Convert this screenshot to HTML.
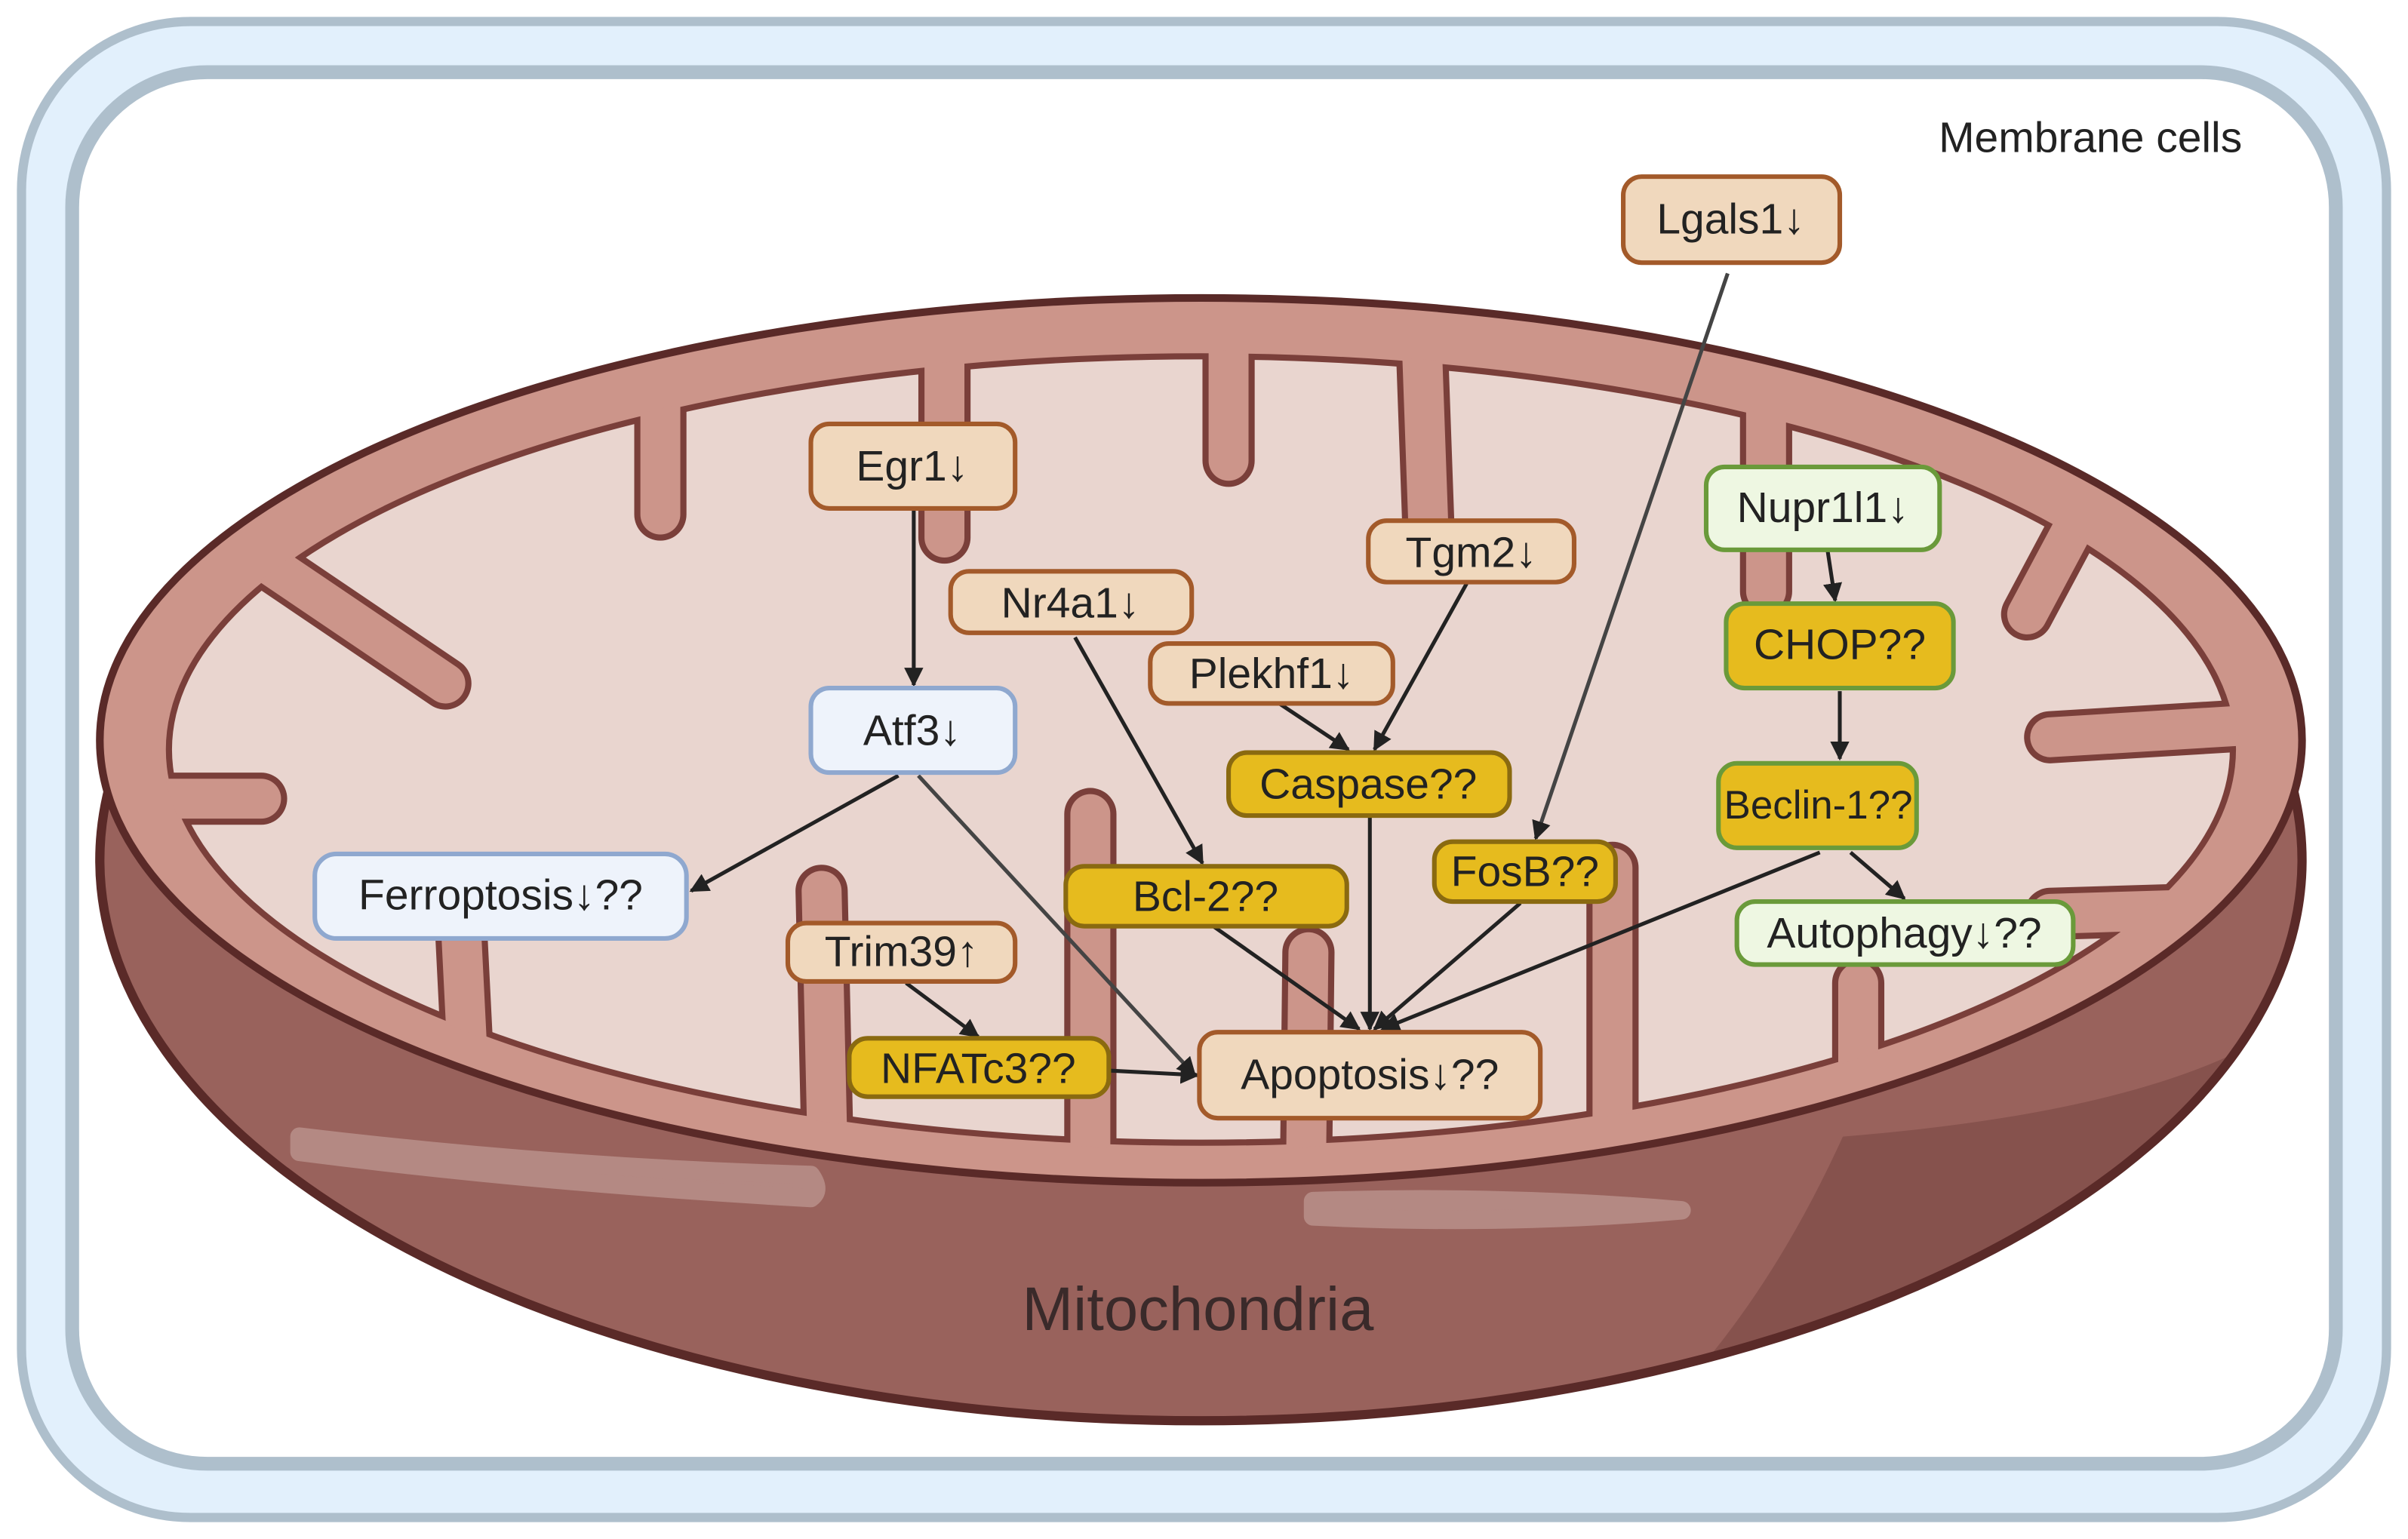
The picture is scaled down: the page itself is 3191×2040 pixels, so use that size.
<!DOCTYPE html>
<html><head><meta charset="utf-8"><style>
html,body{margin:0;padding:0;background:#fff;}
svg{display:block;}
text{font-family:"Liberation Sans","DejaVu Sans",sans-serif;}
</style></head><body>
<svg width="3191" height="2040" viewBox="0 0 1568 1002" preserveAspectRatio="none" xmlns="http://www.w3.org/2000/svg">
<defs>
<marker id="ah" viewBox="0 0 10 10" refX="9" refY="5" markerWidth="5" markerHeight="5" orient="auto"><path d="M0,0 L10,5 L0,10 z" fill="#222"/></marker>
<clipPath id="inner"><ellipse cx="782" cy="488" rx="672" ry="256"/></clipPath>
<clipPath id="inner2"><ellipse cx="782" cy="488" rx="676" ry="260"/></clipPath>
<clipPath id="body"><ellipse cx="782" cy="560" rx="717" ry="365"/></clipPath>
</defs>
<rect x="14" y="14" width="1540" height="974" rx="110" fill="#e2f0fc" stroke="#aebfcc" stroke-width="6"/>
<rect x="47" y="47" width="1474" height="906" rx="88" fill="#fff" stroke="#aebfcc" stroke-width="9"/>
<text x="1460" y="99" font-size="28" fill="#222" text-anchor="end">Membrane cells</text>

<ellipse cx="782" cy="560" rx="717" ry="365" fill="#99625c"/>
<path d="M1200,740 Q1150,850 1080,920 Q1400,820 1520,640 Q1450,720 1200,740z" fill="#86524d" clip-path="url(#body)"/>
<ellipse cx="782" cy="560" rx="717" ry="365" fill="none" stroke="#5a2a28" stroke-width="6"/>
<ellipse cx="782" cy="482" rx="717" ry="288" fill="#cc958a" stroke="#5a2a28" stroke-width="5"/>
<path d="M195,740 Q360,760 528,765 Q535,775 528,780 Q350,770 195,750z" fill="#b48983" stroke="#b48983" stroke-width="12" stroke-linejoin="round"/>
<path d="M855,782 Q980,778 1095,788 Q980,798 855,792z" fill="#b48983" stroke="#b48983" stroke-width="12" stroke-linejoin="round"/>
<ellipse cx="782" cy="488" rx="672" ry="256" fill="#e9d5cf" stroke="#7a3f3a" stroke-width="4"/>
<g fill="none" stroke-linecap="round">
<g stroke="#7a3f3a" stroke-width="34" clip-path="url(#inner)">
<path d="M430,200 L430,335"/><path d="M615,200 L615,350"/><path d="M800,200 L800,300"/><path d="M925,200 L930,340"/><path d="M1150,200 L1150,385"/>
<path d="M540,800 L535,580"/><path d="M710,800 L710,530"/><path d="M850,800 L852,620"/><path d="M1050,800 L1050,565"/><path d="M1210,800 L1210,640"/>
<path d="M120,330 L290,445"/><path d="M60,520 L170,520"/><path d="M310,800 L300,600"/>
<path d="M1500,470 L1335,480"/><path d="M1500,590 L1335,595"/><path d="M1400,250 L1320,400"/>
</g>
<g stroke="#cc958a" stroke-width="26" clip-path="url(#inner2)">
<path d="M430,200 L430,335"/><path d="M615,200 L615,350"/><path d="M800,200 L800,300"/><path d="M925,200 L930,340"/><path d="M1150,200 L1150,385"/>
<path d="M540,800 L535,580"/><path d="M710,800 L710,530"/><path d="M850,800 L852,620"/><path d="M1050,800 L1050,565"/><path d="M1210,800 L1210,640"/>
<path d="M120,330 L290,445"/><path d="M60,520 L170,520"/><path d="M310,800 L300,600"/>
<path d="M1500,470 L1335,480"/><path d="M1500,590 L1335,595"/><path d="M1400,250 L1320,400"/>
</g>
</g>
<text x="780" y="866" font-size="40" fill="#3a2a2a" text-anchor="middle">Mitochondria</text>

<g stroke="#222" stroke-width="2.5" marker-end="url(#ah)" fill="none">
<line x1="595" y1="331" x2="595" y2="446"/>
<line x1="585" y1="505" x2="450" y2="580"/>
<line x1="598" y1="505" x2="778" y2="700" stroke="#444"/>
<line x1="700" y1="415" x2="783" y2="562"/>
<line x1="833" y1="458" x2="878" y2="488"/>
<line x1="955" y1="380" x2="895" y2="488"/>
<line x1="1125" y1="178" x2="1000" y2="546" stroke="#444"/>
<line x1="892" y1="531" x2="892" y2="670"/>
<line x1="790" y1="603" x2="885" y2="670"/>
<line x1="990" y1="588" x2="895" y2="670"/>
<line x1="1185" y1="555" x2="900" y2="670"/>
<line x1="1205" y1="555" x2="1240" y2="585"/>
<line x1="1190" y1="358" x2="1195" y2="391"/>
<line x1="1198" y1="450" x2="1198" y2="494"/>
<line x1="590" y1="640" x2="637" y2="675"/>
<line x1="722" y1="697" x2="780" y2="700"/>
</g>

<g font-size="28" text-anchor="middle" stroke-width="3">
<rect x="1057" y="115" width="141" height="56" rx="12" fill="#f0d8bd" stroke="#a35a2a"/><text x="1127" y="152" fill="#222">Lgals1↓</text>
<rect x="528" y="276" width="133" height="55" rx="12" fill="#f0d8bd" stroke="#a35a2a"/><text x="594" y="313" fill="#222">Egr1↓</text>
<rect x="619" y="372" width="157" height="40" rx="12" fill="#f0d8bd" stroke="#a35a2a"/><text x="697" y="402" fill="#222">Nr4a1↓</text>
<rect x="891" y="339" width="134" height="40" rx="12" fill="#f0d8bd" stroke="#a35a2a"/><text x="958" y="369" fill="#222">Tgm2↓</text>
<rect x="749" y="419" width="158" height="39" rx="12" fill="#f0d8bd" stroke="#a35a2a"/><text x="828" y="448" fill="#222">Plekhf1↓</text>
<rect x="528" y="448" width="133" height="55" rx="12" fill="#eef3fb" stroke="#8fa8cf"/><text x="594" y="485" fill="#222">Atf3↓</text>
<rect x="800" y="490" width="183" height="41" rx="12" fill="#e6bb1e" stroke="#8a6a10"/><text x="891" y="520" fill="#222">Caspase??</text>
<rect x="934" y="548" width="118" height="39" rx="12" fill="#e6bb1e" stroke="#8a6a10"/><text x="993" y="577" fill="#222">FosB??</text>
<rect x="694" y="564" width="183" height="39" rx="12" fill="#e6bb1e" stroke="#8a6a10"/><text x="785" y="593" fill="#222">Bcl-2??</text>
<rect x="205" y="556" width="242" height="55" rx="14" fill="#eef3fb" stroke="#8fa8cf"/><text x="326" y="592" fill="#222">Ferroptosis↓??</text>
<rect x="513" y="601" width="148" height="38" rx="12" fill="#f0d8bd" stroke="#a35a2a"/><text x="587" y="629" fill="#222">Trim39↑</text>
<rect x="553" y="676" width="169" height="38" rx="12" fill="#e6bb1e" stroke="#8a6a10"/><text x="637" y="705" fill="#222">NFATc3??</text>
<rect x="781" y="672" width="222" height="56" rx="12" fill="#f0d8bd" stroke="#a35a2a"/><text x="892" y="709" fill="#222">Apoptosis↓??</text>
<rect x="1111" y="304" width="152" height="54" rx="12" fill="#eef7e2" stroke="#6a9a3a"/><text x="1187" y="340" fill="#222">Nupr1l1↓</text>
<rect x="1124" y="393" width="148" height="55" rx="12" fill="#e6bb1e" stroke="#6a9a3a"/><text x="1198" y="429" fill="#222">CHOP??</text>
<rect x="1119" y="497" width="129" height="55" rx="12" fill="#e6bb1e" stroke="#6a9a3a"/><text x="1184" y="533" fill="#222" font-size="26">Beclin-1??</text>
<rect x="1131" y="587" width="219" height="41" rx="12" fill="#eef7e2" stroke="#6a9a3a"/><text x="1240" y="617" fill="#222">Autophagy↓??</text>
</g>
</svg>
</body></html>
